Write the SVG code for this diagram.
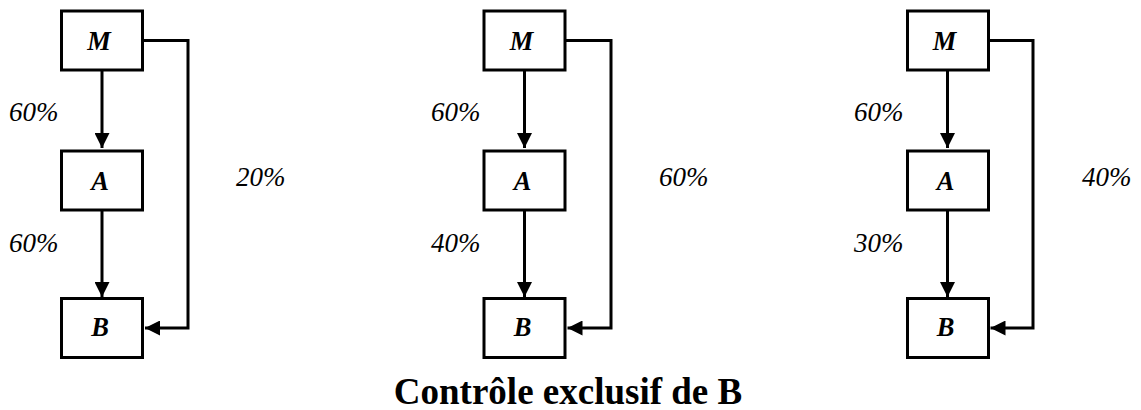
<svg xmlns="http://www.w3.org/2000/svg" width="1141" height="410" viewBox="0 0 1141 410">
<style>
.box{fill:#fff;stroke:#000;stroke-width:3}
.node{font-family:'Liberation Serif','Times New Roman',Times,serif;font-weight:700;font-style:italic;font-size:26.5px;text-anchor:middle}
.pct{font-family:'Liberation Serif','Times New Roman',Times,serif;font-style:italic;font-weight:400;font-size:27px}
.con{fill:none;stroke:#000;stroke-width:3}
.title{font-family:'Liberation Serif','Times New Roman',Times,serif;font-weight:700;font-size:37px;text-anchor:middle}
</style>
<defs>
<marker id="ah" viewBox="0 0 15 15" refX="15" refY="7.5" markerWidth="15" markerHeight="15" markerUnits="userSpaceOnUse" orient="auto">
<path d="M0,0 L15,7.5 L0,15 Z" fill="#000"/>
</marker>
</defs>
<g id="connectors">
<line class="con" x1="102" y1="70" x2="102" y2="148" marker-end="url(#ah)"/>
<line class="con" x1="102" y1="210" x2="102" y2="297" marker-end="url(#ah)"/>
<polyline class="con" points="143,40.5 188,40.5 188,328 145,328" marker-end="url(#ah)"/>
<line class="con" x1="524.5" y1="70" x2="524.5" y2="148" marker-end="url(#ah)"/>
<line class="con" x1="524.5" y1="210" x2="524.5" y2="297" marker-end="url(#ah)"/>
<polyline class="con" points="565.5,40.5 611,40.5 611,328 567.5,328" marker-end="url(#ah)"/>
<line class="con" x1="947.5" y1="70" x2="947.5" y2="148" marker-end="url(#ah)"/>
<line class="con" x1="947.5" y1="210" x2="947.5" y2="297" marker-end="url(#ah)"/>
<polyline class="con" points="988.5,40.5 1033,40.5 1033,328 990.5,328" marker-end="url(#ah)"/>
</g>
<g id="M1"><rect class="box" x="61.5" y="11" width="81" height="59"/><text class="node" x="99" y="49.5">M</text></g>
<g id="A1"><rect class="box" x="61.5" y="151" width="81" height="59"/><text class="node" x="100" y="189.5">A</text></g>
<g id="B1"><rect class="box" x="61.5" y="298.5" width="81" height="59"/><text class="node" x="100" y="336">B</text></g>
<g id="M2"><rect class="box" x="484" y="11" width="81" height="59"/><text class="node" x="521.5" y="49.5">M</text></g>
<g id="A2"><rect class="box" x="484" y="151" width="81" height="59"/><text class="node" x="522.5" y="189.5">A</text></g>
<g id="B2"><rect class="box" x="484" y="298.5" width="81" height="59"/><text class="node" x="522.5" y="336">B</text></g>
<g id="M3"><rect class="box" x="907.5" y="11" width="81" height="59"/><text class="node" x="944.5" y="49.5">M</text></g>
<g id="A3"><rect class="box" x="907.5" y="151" width="81" height="59"/><text class="node" x="945.5" y="189.5">A</text></g>
<g id="B3"><rect class="box" x="907.5" y="298.5" width="81" height="59"/><text class="node" x="945.5" y="336">B</text></g>
<g id="labels">
<text class="pct" x="9" y="120.5">60%</text>
<text class="pct" x="9" y="251.5">60%</text>
<text class="pct" x="236" y="185.5">20%</text>
<text class="pct" x="431" y="120.5">60%</text>
<text class="pct" x="431" y="251.5">40%</text>
<text class="pct" x="659" y="185.5">60%</text>
<text class="pct" x="854" y="120.5">60%</text>
<text class="pct" x="854" y="251.5">30%</text>
<text class="pct" x="1082" y="185.5">40%</text>
</g>
<text class="title" x="568" y="404">Contrôle exclusif de B</text>
</svg>
